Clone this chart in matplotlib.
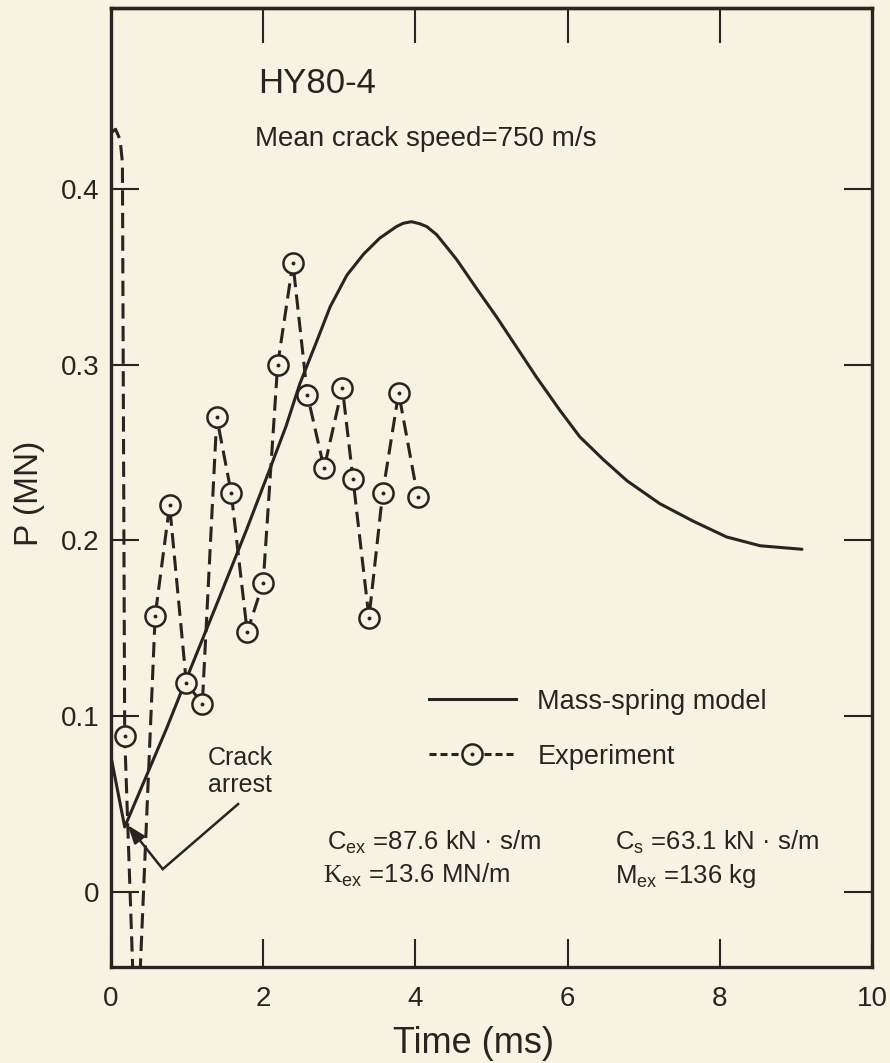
import matplotlib
matplotlib.use("Agg")
import matplotlib.pyplot as plt
from matplotlib.lines import Line2D
from matplotlib.legend_handler import HandlerTuple

plt.rcParams['font.family'] = ['Liberation Sans', 'DejaVu Sans']
plt.rcParams['mathtext.fontset'] = 'custom'
plt.rcParams['mathtext.rm'] = 'Liberation Sans'
plt.rcParams['mathtext.it'] = 'Liberation Sans:italic'
plt.rcParams['mathtext.bf'] = 'Liberation Sans:bold'
plt.rcParams['mathtext.cal'] = 'Liberation Serif'

BG = '#F7F3E2'
INK = '#2B2222'

# Mass-spring model response, load P (MN) vs time (ms)
model_t = [0.0, 0.18, 0.73, 0.97, 1.41, 1.78, 2.09, 2.30, 2.48, 2.70, 2.88,
           3.10, 3.32, 3.53, 3.75, 3.84, 3.95, 4.06, 4.15, 4.28, 4.54, 4.81,
           5.07, 5.33, 5.59, 5.90, 6.16, 6.47, 6.78, 7.21, 7.65, 8.09, 8.53,
           9.08]
model_p = [0.077, 0.037, 0.093, 0.119, 0.166, 0.206, 0.241, 0.265, 0.289,
           0.313, 0.333, 0.351, 0.363, 0.372, 0.3786, 0.3805, 0.3814, 0.3802,
           0.3786, 0.374, 0.360, 0.343, 0.327, 0.310, 0.293, 0.274, 0.259,
           0.246, 0.234, 0.221, 0.211, 0.202, 0.197, 0.195]

# Experimental load readings (marked points)
exp_t = [0.18, 0.58, 0.77, 0.99, 1.20, 1.39, 1.58, 1.79, 2.00, 2.19, 2.39,
         2.58, 2.80, 3.04, 3.18, 3.39, 3.57, 3.78, 4.03]
exp_p = [0.089, 0.157, 0.220, 0.119, 0.107, 0.270, 0.227, 0.148, 0.176,
         0.300, 0.358, 0.283, 0.241, 0.287, 0.235, 0.156, 0.227, 0.284, 0.225]

# Unmarked parts of the record: initial load before the drop, and the dip
# below the plotted range between the first two readings
lead_t = [0.0, 0.06, 0.12, 0.15]
lead_p = [0.432, 0.434, 0.428, 0.415]
dip_t = [0.33]
dip_p = [-0.10]

x_ticks = [0, 2, 4, 6, 8, 10]
x_tick_labels = ['0', '2', '4', '6', '8', '10']
y_ticks = [0.0, 0.1, 0.2, 0.3, 0.4]
y_tick_labels = ['0', '0.1', '0.2', '0.3', '0.4']

trace_t = lead_t + exp_t[:1] + dip_t + exp_t[1:]
trace_p = lead_p + exp_p[:1] + dip_p + exp_p[1:]

fig = plt.figure(figsize=(8.9, 10.63), dpi=100, facecolor=BG)
ax = fig.add_axes([111 / 890, 96 / 1063, 761 / 890, 959 / 1063])
ax.set_facecolor(BG)
ax.set_xlim(0, 10)
ax.set_ylim(-0.0427, 0.503)

for s in ax.spines.values():
    s.set_linewidth(2.4)
    s.set_color(INK)

ax.set_xticks(x_ticks, labels=x_tick_labels)
ax.set_yticks(y_ticks, labels=y_tick_labels)
ax.tick_params(axis='both', direction='in', length=20, width=1.5,
               color=INK, labelcolor=INK, labelsize=20, right=True, top=False)
ax.tick_params(axis='x', pad=14)
ax.tick_params(axis='y', pad=8.5)

top = ax.secondary_xaxis('top')
top.set_xticks(x_ticks[1:-1])
top.tick_params(direction='in', length=25, width=1.5, color=INK,
                labeltop=False)
top.spines['top'].set_linewidth(2.4)
top.spines['top'].set_color(INK)

ax.set_xlabel('Time (ms)', fontsize=26, color=INK)
ax.xaxis.set_label_coords(0.476, -0.0615)
ax.set_ylabel('P (MN)', fontsize=24, color=INK)
ax.yaxis.set_label_coords(-0.0867, 0.494)

# Experiment: dashed trace with open circles carrying a centre dot
ax.plot(trace_t, trace_p, color=INK, lw=2.2, ls=(0, (5, 2.4)), zorder=2)
ax.plot(model_t, model_p, color=INK, lw=2.2, zorder=3,
        solid_joinstyle='round', solid_capstyle='round')
ax.plot(exp_t, exp_p, ls='none', marker='o', ms=14.5, mfc=BG, mec=INK,
        mew=1.8, zorder=4)
ax.plot(exp_t, exp_p, ls='none', marker='o', ms=2.8, mfc=INK, mec=INK,
        mew=0, zorder=5)

# Legend
h_model = Line2D([], [], color=INK, lw=2.2)
h_exp_line = Line2D([], [], color=INK, lw=2.2, ls=(0, (2.3, 1.3)),
                    marker='o', ms=14.5, mfc=BG, mec=INK, mew=1.8)
h_exp_dot = Line2D([], [], ls='none', marker='o', ms=2.8, mfc=INK,
                   mec=INK, mew=0)
leg = ax.legend([h_model, (h_exp_line, h_exp_dot)],
                ['Mass-spring model', 'Experiment'],
                handler_map={tuple: HandlerTuple(ndivide=1)},
                loc='upper left', bbox_to_anchor=(0.418, 0.290),
                frameon=False, fontsize=19.5, handlelength=3.2,
                handletextpad=0.8, labelspacing=1.06, borderpad=0,
                borderaxespad=0, labelcolor=INK)

# Header text
ax.text(1.93, 0.4545, 'HY80-4', fontsize=25, color=INK, va='baseline')
ax.text(1.89, 0.4244, 'Mean crack speed=750 m/s', fontsize=20, color=INK,
        va='baseline')

# Crack arrest callout
ax.text(1.275, 0.083, 'Crack\narrest', fontsize=18, color=INK,
        ha='left', va='top', linespacing=1.15)
ax.plot([1.67, 0.68], [0.050, 0.013], color=INK, lw=1.8, zorder=3)
ax.annotate('', xy=(0.22, 0.038), xytext=(0.68, 0.013),
            arrowprops=dict(arrowstyle='-|>,head_length=0.55,head_width=0.2',
                            mutation_scale=20, color=INK, lw=1.8,
                            shrinkA=0, shrinkB=0))

# Model parameters
ax.text(2.84, 0.0239, r'$\mathrm{C}_{\mathrm{ex}}$ =87.6 kN · s/m',
        fontsize=18.5, color=INK, va='baseline')
ax.text(2.79, 0.0051, r'$\mathcal{K}_{\mathrm{ex}}$ =13.6 MN/m',
        fontsize=18.5, color=INK, va='baseline')
ax.text(6.62, 0.0239, r'$\mathrm{C}_{\mathrm{s}}$ =63.1 kN · s/m',
        fontsize=18.5, color=INK, va='baseline')
ax.text(6.62, 0.0051, r'$\mathrm{M}_{\mathrm{ex}}$ =136 kg',
        fontsize=18.5, color=INK, va='baseline')

fig.savefig('out.png', dpi=100, facecolor=BG)
